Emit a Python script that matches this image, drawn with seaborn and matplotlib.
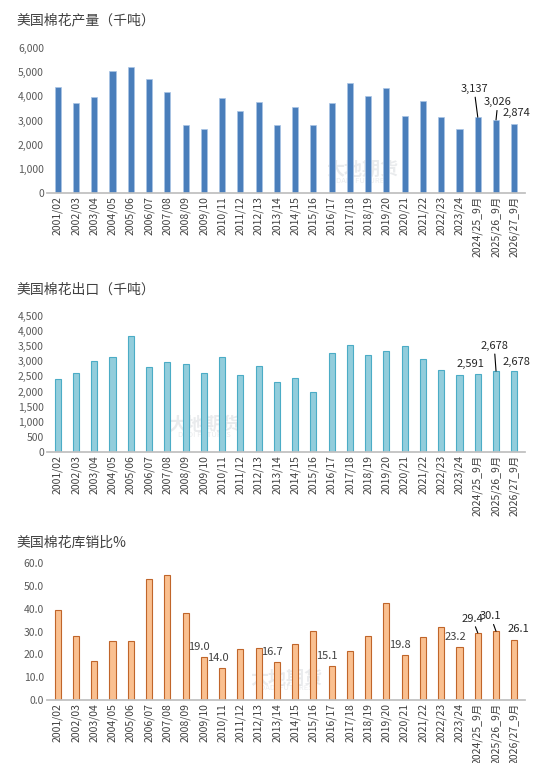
import matplotlib
matplotlib.use("Agg")
import matplotlib.pyplot as plt
import seaborn as sns
import pandas as pd

sns.set_theme(style="white")
plt.rcParams['font.family'] = ['Noto Sans CJK SC', 'DejaVu Sans']

seasons = ["2001/02", "2002/03", "2003/04", "2004/05", "2005/06", "2006/07", "2007/08",
           "2008/09", "2009/10", "2010/11", "2011/12", "2012/13", "2013/14", "2014/15",
           "2015/16", "2016/17", "2017/18", "2018/19", "2019/20", "2020/21", "2021/22",
           "2022/23", "2023/24", "2024/25_9月", "2025/26_9月", "2026/27_9月"]

production = [4400, 3740, 3970, 5060, 5200, 4700, 4180, 2800, 2650, 3940, 3390, 3770, 2810,
              3550, 2810, 3740, 4560, 4000, 4340, 3180, 3810, 3150, 2630, 3137, 3026, 2874]
exports = [2400, 2600, 3000, 3150, 3850, 2820, 2980, 2900, 2630, 3130, 2560, 2840, 2300,
           2450, 2000, 3260, 3550, 3220, 3350, 3500, 3070, 2720, 2560, 2591, 2678, 2678]
stock_ratio = [39.6, 28.0, 17.1, 25.9, 25.9, 52.8, 54.9, 38.0, 19.0, 14.0, 22.2, 22.9, 16.7,
               24.6, 30.1, 15.1, 21.3, 28.0, 42.7, 19.8, 27.5, 32.0, 23.2, 29.4, 30.1, 26.1]

fig = plt.figure(figsize=(5.5, 7.63), dpi=100)
H = 763.0


def make_ax(top, bottom, title, title_y):
    ax = fig.add_axes([0.085, 1 - bottom / H, 0.87, (bottom - top) / H])
    fig.text(0.03, 1 - title_y / H, title, fontsize=10, color='#404040', va='center')
    return ax


def style(ax, ymax, step, fmt):
    ax.set_ylim(0, ymax)
    ax.set_yticks([i * step for i in range(int(round(ymax / step)) + 1)])
    ax.set_yticklabels([fmt(v) for v in ax.get_yticks()], fontsize=7.5, color='#595959')
    ax.tick_params(axis='x', labelrotation=90, labelsize=7.5, colors='#404040', length=0, pad=2)
    ax.tick_params(axis='y', length=0, pad=2)
    for s in ['top', 'right', 'left']:
        ax.spines[s].set_visible(False)
    ax.spines['bottom'].set_color('#bfbfbf')
    ax.set_xlabel('')
    ax.set_ylabel('')
    ax.set_xlim(-0.6, len(seasons) - 0.4)


def watermark(ax, x, y):
    ax.text(x, y, "大地期货", transform=ax.transAxes, fontsize=13, color='#d5d8dc',
            alpha=0.5, ha='center', va='center', fontweight='bold', zorder=0)
    ax.text(x, y - 0.075, "DADI FUTURES", transform=ax.transAxes, fontsize=5.5,
            color='#d5d8dc', alpha=0.5, ha='center', va='center', zorder=0)


n = len(seasons)

# panel 1
ax1 = make_ax(48, 193, "美国棉花产量（千吨）", 20)
df1 = pd.DataFrame({"season": seasons, "v": production})
sns.barplot(data=df1, x="season", y="v", ax=ax1, color='#4a7ebb', width=0.33,
            edgecolor='#a9c4e6', linewidth=0.5, saturation=1)
style(ax1, 6000, 1000, lambda v: f"{int(v):,}")
watermark(ax1, 0.66, 0.16)
ax1.annotate("3,137", (n - 3, production[-3]), (n - 3.2, 4100), ha='center', va='bottom',
             fontsize=8, arrowprops=dict(arrowstyle='-', color='black', lw=0.8, shrinkA=0, shrinkB=0))
ax1.annotate("3,026", (n - 2, production[-2]), (n - 1.9, 3550), ha='center', va='bottom',
             fontsize=8, arrowprops=dict(arrowstyle='-', color='black', lw=0.8, shrinkA=0, shrinkB=0))
ax1.text(n - 0.9, production[-1] + 250, "2,874", ha='center', va='bottom', fontsize=8)

# panel 2
ax2 = make_ax(316, 452, "美国棉花出口（千吨）", 290)
df2 = pd.DataFrame({"season": seasons, "v": exports})
sns.barplot(data=df2, x="season", y="v", ax=ax2, color='#92cddc', width=0.33,
            edgecolor='#4bacc6', linewidth=0.8, saturation=1)
style(ax2, 4500, 500, lambda v: f"{int(v):,}")
watermark(ax2, 0.33, 0.2)
ax2.text(n - 3.4, exports[-3] + 150, "2,591", ha='center', va='bottom', fontsize=8)
ax2.annotate("2,678", (n - 2, exports[-2]), (n - 2.1, 3350), ha='center', va='bottom',
             fontsize=8, arrowprops=dict(arrowstyle='-', color='black', lw=0.8, shrinkA=0, shrinkB=0))
ax2.text(n - 0.9, exports[-1] + 150, "2,678", ha='center', va='bottom', fontsize=8)

# panel 3
ax3 = make_ax(563, 700, "美国棉花库销比%", 543)
df3 = pd.DataFrame({"season": seasons, "v": stock_ratio})
sns.barplot(data=df3, x="season", y="v", ax=ax3, color='#fac090', width=0.33,
            edgecolor='#c0652a', linewidth=0.8, saturation=1)
style(ax3, 60, 10, lambda v: f"{v:.1f}")
watermark(ax3, 0.5, 0.16)
for i in [8, 9, 12, 15, 19, 22]:
    ax3.text(i - 0.25, stock_ratio[i] + 2, f"{stock_ratio[i]:.1f}", ha='center', va='bottom',
             fontsize=8, color='#404040')
ax3.annotate("29.4", (n - 3, stock_ratio[-3]), (n - 3.3, 33.5), ha='center', va='bottom',
             fontsize=8, arrowprops=dict(arrowstyle='-', color='black', lw=0.8, shrinkA=0, shrinkB=0))
ax3.annotate("30.1", (n - 2, stock_ratio[-2]), (n - 2.3, 34.5), ha='center', va='bottom',
             fontsize=8, arrowprops=dict(arrowstyle='-', color='black', lw=0.8, shrinkA=0, shrinkB=0))
ax3.text(n - 0.8, stock_ratio[-1] + 3, "26.1", ha='center', va='bottom', fontsize=8)

fig.savefig("out.png", dpi=100, facecolor='white')
